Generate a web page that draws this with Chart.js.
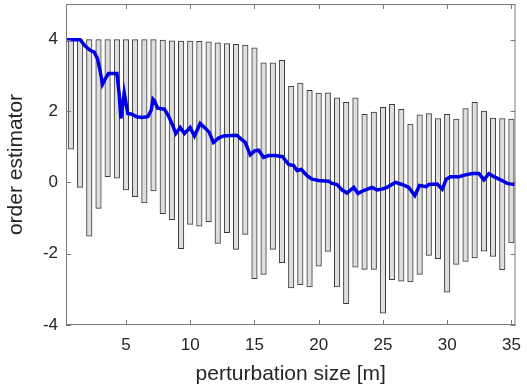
<!DOCTYPE html>
<html>
<head>
<meta charset="utf-8">
<script src="https://cdn.jsdelivr.net/npm/chart.js@4.4.1/dist/chart.umd.min.js"></script>
<style>
  html, body { margin: 0; padding: 0; background: #fff; }
  #wrap { width: 527px; height: 391px; }
</style>
</head>
<body>
<div id="wrap"><canvas id="orderChart"></canvas></div>
<script>
// bar positions (perturbation size, m)
const barX = [0.71, 1.43, 2.14, 2.86, 3.57, 4.29, 5.00, 5.71, 6.43, 7.14,
  7.86, 8.57, 9.29, 10.00, 10.71, 11.43, 12.14, 12.86, 13.57, 14.29,
  15.00, 15.71, 16.43, 17.14, 17.86, 18.57, 19.29, 20.00, 20.71, 21.43,
  22.14, 22.86, 23.57, 24.29, 25.00, 25.71, 26.43, 27.14, 27.86, 28.57,
  29.29, 30.00, 30.71, 31.43, 32.14, 32.86, 33.57, 34.29, 35.00];

// upper end of each range bar
const barTop = [4.00, 4.00, 4.00, 4.00, 4.00, 4.00, 4.00, 4.00, 4.00, 4.00,
  3.99, 3.97, 3.96, 3.96, 3.95, 3.94, 3.91, 3.89, 3.87, 3.85,
  3.77, 3.35, 3.35, 3.42, 2.69, 2.78, 2.58, 2.50, 2.51, 2.37,
  2.24, 2.37, 1.91, 1.97, 2.10, 2.19, 2.05, 1.63, 1.89, 1.93,
  1.79, 1.91, 1.77, 2.07, 2.24, 2.00, 1.80, 1.79, 1.77];

// lower end of each range bar
const barBottom = [0.93, -0.14, -1.51, -0.73, 0.16, 0.12, -0.21, -0.40, -0.58, -0.24,
  -0.88, -1.05, -1.86, -1.18, -1.23, -1.10, -1.71, -1.41, -1.88, -1.46,
  -2.70, -2.58, -1.88, -2.25, -2.96, -2.87, -2.93, -2.35, -1.94, -2.93,
  -3.40, -2.38, -2.44, -2.44, -3.67, -2.73, -2.77, -2.79, -2.58, -2.05,
  -2.14, -3.08, -2.30, -2.22, -2.12, -1.93, -2.08, -2.45, -1.70];

// mean order estimator (blue line)
const lineX = [0.34, 1.43, 1.82, 2.21, 2.52, 2.78, 2.99, 3.17, 3.43, 3.64,
  4.29, 4.47, 4.60, 4.86, 5.14, 5.45, 5.84, 6.23, 6.70, 6.96,
  7.10, 7.22, 7.47, 7.99, 8.31, 8.62, 8.88, 9.22, 9.55, 9.99,
  10.33, 10.77, 11.16, 11.48, 11.81, 12.20, 12.59, 13.63, 13.97, 14.28,
  14.67, 15.01, 15.32, 15.71, 16.10, 16.62, 17.19, 17.66, 18.05, 18.31,
  18.65, 19.09, 19.48, 20.00, 20.78, 21.04, 21.43, 21.81, 22.20, 22.73,
  23.06, 23.50, 24.15, 24.54, 24.93, 25.32, 25.98, 26.49, 27.01, 27.48,
  27.85, 28.37, 28.57, 29.22, 29.61, 29.93, 30.26, 30.91, 31.43, 31.95,
  32.47, 32.86, 33.24, 33.64, 34.16, 34.67, 35.27];
const lineY = [4.00, 4.00, 3.82, 3.70, 3.65, 3.47, 3.12, 2.75, 2.93, 3.05,
  3.05, 2.47, 1.79, 2.51, 1.93, 1.91, 1.84, 1.82, 1.84, 2.02,
  2.33, 2.28, 2.08, 2.05, 1.86, 1.61, 1.37, 1.54, 1.37, 1.54,
  1.30, 1.65, 1.52, 1.40, 1.12, 1.24, 1.30, 1.32, 1.21, 1.12,
  0.77, 0.88, 0.90, 0.70, 0.75, 0.75, 0.72, 0.50, 0.47, 0.33,
  0.36, 0.19, 0.09, 0.05, 0.03, -0.03, -0.06, -0.21, -0.30, -0.14,
  -0.31, -0.23, -0.14, -0.21, -0.19, -0.14, 0.00, -0.06, -0.14, -0.37,
  -0.09, -0.12, -0.06, -0.05, -0.19, 0.09, 0.16, 0.16, 0.21, 0.25,
  0.25, 0.07, 0.24, 0.16, 0.07, -0.03, -0.06];

const xTicks = [5, 10, 15, 20, 25, 30, 35];
const yTicks = [-4, -2, 0, 2, 4];

const axisColor = '#7a7a7a';
const textColor = '#262626';
const fontFamily = '"Liberation Sans", Arial, Helvetica, sans-serif';

// MATLAB style box with inward ticks on all four sides
const frameAndTicks = {
    id: 'frameAndTicks',
    afterDraw(chart) {
        const { ctx, chartArea: a, scales: { x, y } } = chart;
        const len = 5;
        ctx.save();
        ctx.strokeStyle = axisColor;
        ctx.lineWidth = 1;
        ctx.strokeRect(a.left + 0.5, a.top + 0.5, a.right - a.left - 1, a.bottom - a.top - 1);
        ctx.beginPath();
        x.ticks.forEach(t => {
            const px = Math.round(x.getPixelForValue(t.value)) + 0.5;
            ctx.moveTo(px, a.bottom); ctx.lineTo(px, a.bottom - len);
            ctx.moveTo(px, a.top); ctx.lineTo(px, a.top + len);
        });
        y.ticks.forEach(t => {
            const py = Math.round(y.getPixelForValue(t.value)) + 0.5;
            ctx.moveTo(a.left, py); ctx.lineTo(a.left + len, py);
            ctx.moveTo(a.right, py); ctx.lineTo(a.right - len, py);
        });
        ctx.stroke();
        ctx.restore();
    }
};

const ctx = document.getElementById('orderChart');
new Chart(ctx, {
    type: 'bar',
    data: {
        datasets: [{
            type: 'line',
            label: 'mean',
            data: lineX.map((v, i) => ({ x: v, y: lineY[i] })),
            borderColor: '#0000e6',
            borderWidth: 3.5,
            pointRadius: 0,
            tension: 0,
            fill: false,
            order: 0
        }, {
            type: 'bar',
            label: 'range',
            data: barX.map((v, i) => ({ x: v, y: [barBottom[i], barTop[i]] })),
            backgroundColor: '#dedede',
            borderColor: '#3a3a3a',
            borderWidth: 1,
            borderSkipped: false,
            barThickness: 5.5,
            order: 1
        }]
    },
    options: {
        responsive: true,
        maintainAspectRatio: false,
        animation: false,
        layout: { padding: { left: 0, right: 11.5, top: 4, bottom: 0 } },
        plugins: {
            legend: { display: false },
            tooltip: { enabled: false }
        },
        scales: {
            x: {
                type: 'linear',
                min: 0.33,
                max: 35.32,
                offset: false,
                afterBuildTicks: s => { s.ticks = xTicks.map(v => ({ value: v })); },
                afterFit: s => { s.height = 66; s.paddingLeft = 0; s.paddingRight = 0; },
                grid: { display: false, drawTicks: false },
                border: { display: false },
                ticks: {
                    color: textColor,
                    padding: 10,
                    maxRotation: 0,
                    autoSkip: false,
                    font: { family: fontFamily, size: 17 }
                },
                title: {
                    display: true,
                    text: 'perturbation size [m]',
                    color: textColor,
                    padding: { top: 0, bottom: 4 },
                    font: { family: fontFamily, size: 21 }
                }
            },
            y: {
                min: -4,
                max: 5,
                afterBuildTicks: s => { s.ticks = yTicks.map(v => ({ value: v })); },
                afterFit: s => { s.width = 66; s.paddingTop = 0; s.paddingBottom = 0; },
                grid: { display: false, drawTicks: false },
                border: { display: false },
                ticks: {
                    color: textColor,
                    padding: 8,
                    font: { family: fontFamily, size: 17 }
                },
                title: {
                    display: true,
                    text: 'order estimator',
                    color: textColor,
                    padding: { top: 4, bottom: 0 },
                    font: { family: fontFamily, size: 21 }
                }
            }
        }
    },
    plugins: [frameAndTicks]
});
</script>
</body>
</html>
